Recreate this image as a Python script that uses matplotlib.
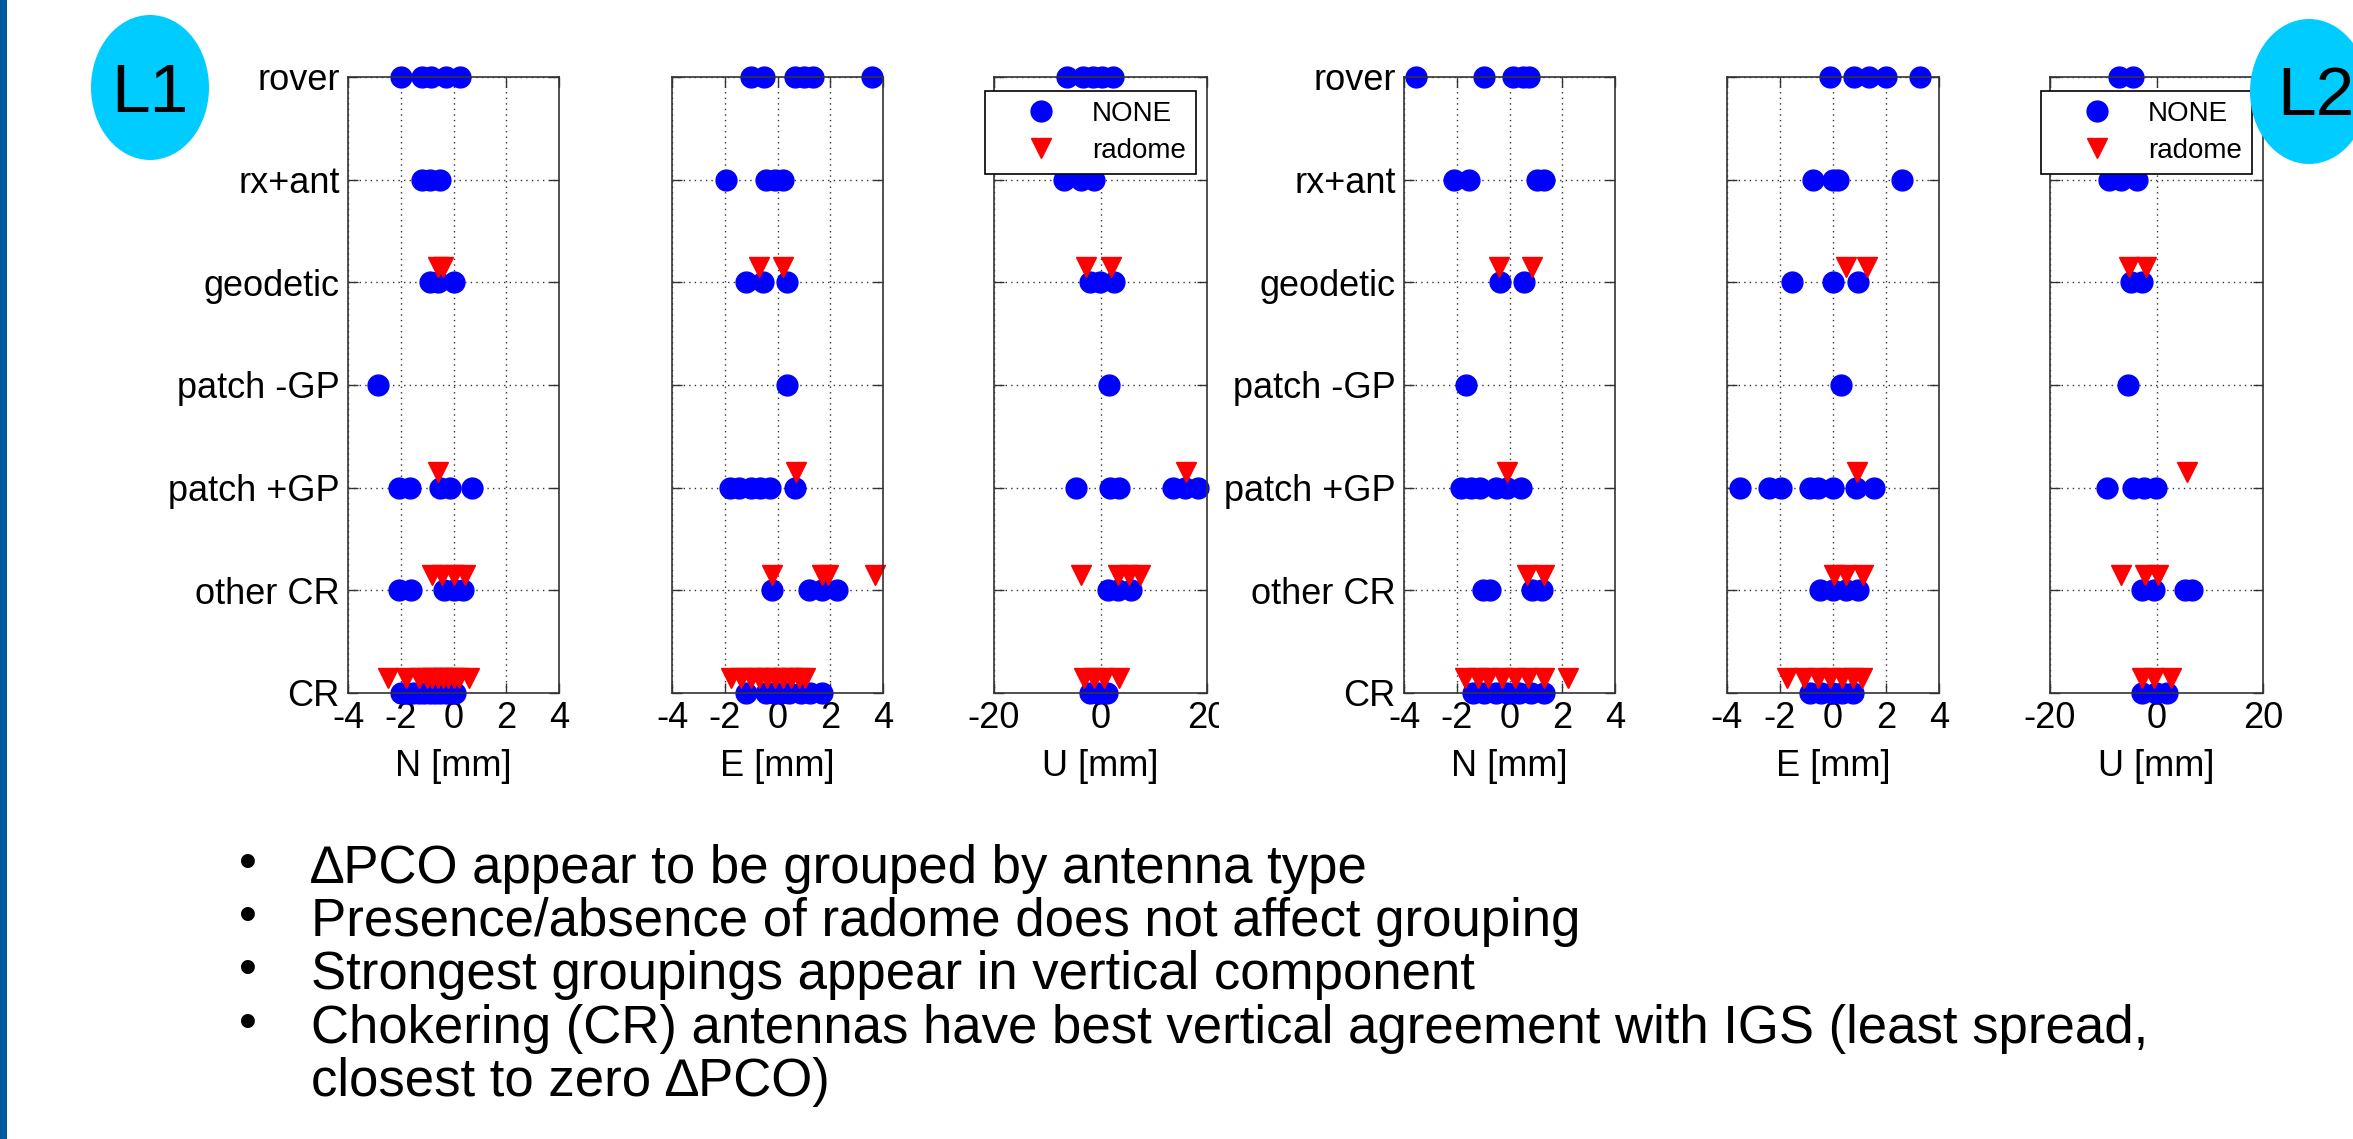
import matplotlib.pyplot as plt
from matplotlib.patches import Ellipse, Rectangle
from matplotlib.lines import Line2D

plt.rcParams['font.family'] = ['Liberation Sans', 'DejaVu Sans']

W, H = 2353, 1139

# antenna groups, bottom (y=1) to top (y=7)
categories = ['CR', 'other CR', 'patch +GP', 'patch -GP', 'geodetic', 'rx+ant', 'rover']

# delta PCO [mm], one list per antenna group (same order as categories)
l1_n_none = [[-2.0, -1.8, -1.55, -1.3, -1.1, -0.9, -0.7, -0.5, -0.3, -0.1, 0.05],
             [-2.05, -1.6, -0.35, 0.0, 0.35],
             [-2.05, -1.65, -0.5, -0.15, 0.7],
             [-2.85],
             [-0.9, -0.6, 0.0],
             [-1.2, -0.9, -0.5],
             [-2.0, -1.2, -0.85, -0.3, 0.25]]
l1_n_radome = [[-2.5, -1.8, -1.3, -1.0, -0.8, -0.6, -0.4, -0.2, 0.0, 0.2, 0.6],
               [-0.8, -0.45, 0.0, 0.45],
               [-0.6], [], [-0.6, -0.4], [], []]

l1_e_none = [[-1.2, -0.45, -0.15, 0.15, 0.45, 0.9, 1.25, 1.7],
             [-0.2, 1.2, 1.7, 2.25],
             [-1.8, -1.45, -1.0, -0.65, -0.3, 0.65],
             [0.35],
             [-1.2, -0.55, 0.35],
             [-1.95, -0.45, -0.1, 0.2],
             [-1.0, -0.5, 0.65, 1.0, 1.35, 3.6]]
l1_e_radome = [[-1.75, -1.4, -1.0, -0.7, -0.4, -0.1, 0.2, 0.5, 0.8, 1.05],
               [-0.2, 1.7, 1.9, 3.7],
               [0.7], [], [-0.7, 0.2], [], []]

l1_u_none = [[-2.0, -0.5, 1.2],
             [1.4, 3.2, 5.7],
             [-4.6, 1.7, 3.5, 13.6, 15.8, 18.3],
             [1.6],
             [-2.0, -0.1, 2.6],
             [-6.8, -3.7, -1.2],
             [-6.3, -3.3, -1.5, 0.3, 2.4]]
l1_u_radome = [[-3.1, -1.2, 0.6, 3.5],
               [-3.7, 3.2, 5.3, 7.5],
               [16.1], [], [-2.7, 1.9], [], []]

l2_n_none = [[-1.4, -0.95, -0.5, -0.1, 0.35, 0.8, 1.3],
             [-1.0, -0.75, 0.85, 1.25],
             [-1.85, -1.45, -1.1, -0.5, -0.1, 0.45],
             [-1.65],
             [-0.35, 0.55],
             [-2.1, -1.55, 1.05, 1.3],
             [-3.55, -0.95, 0.15, 0.5, 0.75]]
l2_n_radome = [[-1.7, -1.2, -0.8, -0.3, 0.2, 0.7, 1.3, 2.2],
               [0.65, 1.3],
               [-0.1], [], [-0.4, 0.85], [], []]

l2_e_none = [[-0.85, -0.45, -0.05, 0.35, 0.75],
             [-0.5, 0.0, 0.5, 0.95],
             [-3.5, -2.4, -1.95, -0.85, -0.55, 0.0, 0.85, 1.55],
             [0.3],
             [-1.55, 0.0, 0.95],
             [-0.75, 0.0, 0.2, 2.6],
             [-0.1, 0.8, 1.35, 2.0, 3.3]]
l2_e_radome = [[-1.75, -1.1, -0.55, -0.1, 0.35, 0.75, 1.1],
               [0.05, 0.5, 1.15],
               [0.9], [], [0.5, 1.3], [], []]

l2_u_none = [[-2.8, -0.1, 2.0],
             [-2.8, -0.5, 5.4, 6.6],
             [-9.3, -4.5, -2.4, -0.1],
             [-5.3],
             [-4.8, -2.8],
             [-8.9, -6.7, -3.6],
             [-7.1, -4.4]]
l2_u_radome = [[-2.7, -0.5, 2.7],
               [-6.6, -2.2, 0.3],
               [5.8], [], [-5.2, -2.0], [], []]

hor_ticks = [-4, -2, 0, 2, 4]
up_ticks = [-20, 0, 20]

bullets = ['\u2206PCO appear to be grouped by antenna type',
           'Presence/absence of radome does not affect grouping',
           'Strongest groupings appear in vertical component',
           'Chokering (CR) antennas have best vertical agreement with IGS (least spread,']
bullet_cont = 'closest to zero \u2206PCO)'

# (none, radome, xlabel, ticks, left px, right px, category labels?, legend?)
panels = [
    (l1_n_none, l1_n_radome, 'N [mm]', hor_ticks, 348, 559, True, False),
    (l1_e_none, l1_e_radome, 'E [mm]', hor_ticks, 672, 883, False, False),
    (l1_u_none, l1_u_radome, 'U [mm]', up_ticks, 994, 1207, False, True),
    (l2_n_none, l2_n_radome, 'N [mm]', hor_ticks, 1404, 1615, True, False),
    (l2_e_none, l2_e_radome, 'E [mm]', hor_ticks, 1727, 1939, False, False),
    (l2_u_none, l2_u_radome, 'U [mm]', up_ticks, 2050, 2263, False, True),
]

TOP, BOT = 77, 693
MS = 15
fig = plt.figure(figsize=(W / 100, H / 100), dpi=100)
fig.patch.set_facecolor('white')

for none, radome, xlab, ticks, x0, x1, show_cat, show_leg in panels:
    ax = fig.add_axes([x0 / W, 1 - BOT / H, (x1 - x0) / W, (BOT - TOP) / H])
    for i, vals in enumerate(none):
        ax.plot(vals, [i + 1] * len(vals), 'o', color='#0000ff', ms=MS,
                mec='#0000ff', clip_on=False, zorder=2)
    for i, vals in enumerate(radome):
        ax.plot(vals, [i + 1.15] * len(vals), 'v', color='#ff0000', ms=MS,
                mec='#ff0000', clip_on=False, zorder=2.1)
    ax.set_xlim(ticks[0], ticks[-1])
    ax.set_ylim(1, 7)
    ax.set_xticks(ticks)
    ax.set_xticklabels([str(t) for t in ticks])
    ax.set_yticks(range(1, 8))
    ax.set_yticklabels(categories if show_cat else [])
    ax.set_xlabel(xlab, fontsize=26, labelpad=9)
    ax.tick_params(direction='in', length=7, width=1, top=True, right=True,
                   labelsize=26, pad=6, color='#333333', labelcolor='black')
    ax.tick_params(axis='y', pad=6)
    ax.grid(True, linestyle=(0, (1, 3)), color='#333333', linewidth=1.0)
    ax.set_axisbelow(True)
    for sp in ax.spines.values():
        sp.set_color('#333333')
        sp.set_linewidth(1.2)
    if show_leg:
        handles = [Line2D([], [], ls='none', marker='o', color='#0000ff', ms=MS, label='NONE'),
                   Line2D([], [], ls='none', marker='v', color='#ff0000', ms=MS, label='radome')]
        leg = ax.legend(handles=handles, loc='upper left', bbox_to_anchor=(-0.042, 0.977),
                        fontsize=20, frameon=True, fancybox=False, edgecolor='black',
                        framealpha=1, borderpad=0.35, labelspacing=0.4, handlelength=3.3,
                        handletextpad=0.2, borderaxespad=0)
        leg.get_frame().set_linewidth(1.2)
        leg.set_zorder(5)

# slide decoration
fig.add_artist(Rectangle((0, 0), 7 / W, 1, transform=fig.transFigure,
                         facecolor='#005a9e', edgecolor='none', zorder=3))
fig.add_artist(Rectangle((1219 / W, 1 - 750 / H), 80 / W, 52 / H, transform=fig.transFigure,
                         facecolor='white', edgecolor='none', zorder=3))

fig.add_artist(Ellipse((150 / W, 1 - 87.5 / H), 118 / W, 145 / H, transform=fig.transFigure,
                       facecolor='#00ccff', edgecolor='none', zorder=4))
fig.text(150 / W, 1 - 112 / H, 'L1', fontsize=50, ha='center', va='baseline', zorder=5)
fig.add_artist(Ellipse((2309 / W, 1 - 91.5 / H), 118 / W, 145 / H, transform=fig.transFigure,
                       facecolor='#00ccff', edgecolor='none', zorder=4))
fig.text(2277 / W, 1 - 115 / H, 'L2', fontsize=50, ha='left', va='baseline', zorder=5)

# bullet list
line_y = [864, 917, 970, 1024]
for y, txt in zip(line_y, bullets):
    fig.text(248 / W, 1 - (y + 14) / H, '\u2022', fontsize=37, ha='center', va='baseline')
    fig.text(311 / W, 1 - (y + 19) / H, txt, fontsize=38, ha='left', va='baseline')
fig.text(311 / W, 1 - (1077 + 19) / H, bullet_cont, fontsize=38, ha='left', va='baseline')

fig.savefig('out.png', dpi=100)
